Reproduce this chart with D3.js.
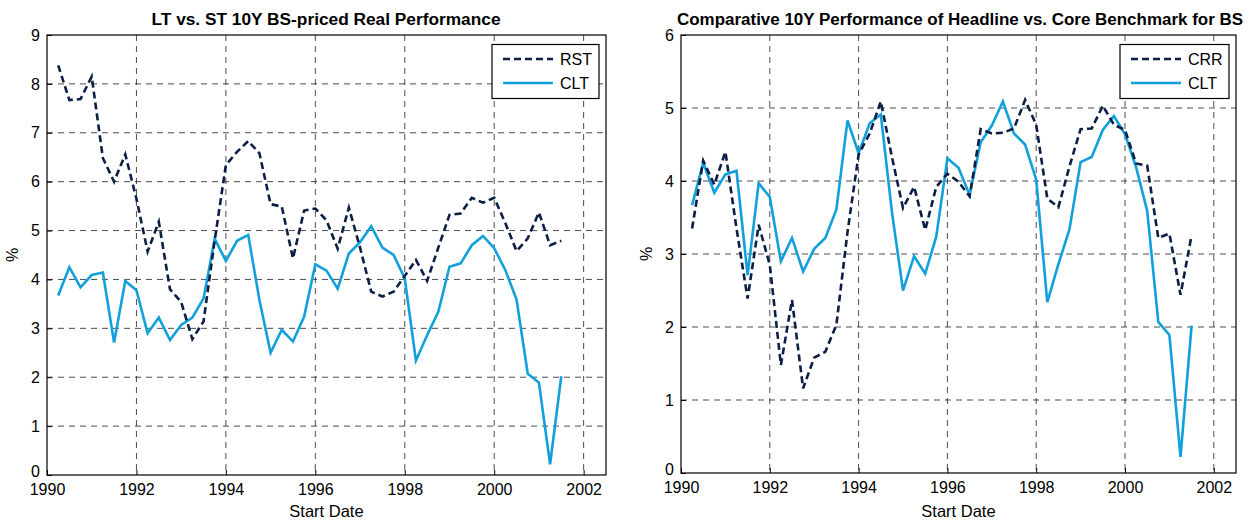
<!DOCTYPE html>
<html><head><meta charset="utf-8">
<script src="https://cdn.jsdelivr.net/npm/d3@7"></script>
<style>
body{margin:0;background:#fff;}
svg text{font-family:"Liberation Sans",Arial,sans-serif;}
</style></head>
<body><svg id="c" width="1250" height="522"></svg>
<script>
// Quarterly start dates 1990.25 .. 2001.5
const dates = d3.range(46).map(i => 1990.25 + i * 0.25);
const rst = [8.38,7.67,7.69,8.15,6.48,6.00,6.56,5.65,4.57,5.18,3.80,3.54,2.78,3.14,4.80,6.34,
  6.61,6.83,6.58,5.54,5.49,4.43,5.41,5.45,5.21,4.63,5.47,4.65,3.75,3.65,3.75,4.07,
  4.40,3.97,4.65,5.32,5.35,5.67,5.57,5.67,5.15,4.58,4.84,5.37,4.70,4.79];
const clt = [3.67,4.25,3.84,4.09,4.14,2.71,3.97,3.78,2.90,3.22,2.76,3.07,3.22,3.61,4.83,4.38,
  4.79,4.91,3.58,2.50,2.97,2.73,3.24,4.31,4.18,3.81,4.53,4.76,5.09,4.65,4.50,4.02,
  2.34,2.86,3.34,4.26,4.33,4.70,4.89,4.64,4.19,3.59,2.07,1.89,0.22,2.02];
const crr = [3.35,4.28,3.95,4.40,3.35,2.39,3.40,2.85,1.48,2.37,1.16,1.58,1.66,2.03,3.30,4.36,
  4.65,5.09,4.33,3.63,3.92,3.33,3.92,4.10,3.99,3.79,4.71,4.65,4.66,4.72,5.11,4.77,
  3.76,3.64,4.20,4.71,4.72,5.03,4.77,4.70,4.24,4.21,3.22,3.28,2.44,3.26];
const xTicks = [1990,1992,1994,1996,1998,2000,2002];
const yTicksL = [0,1,2,3,4,5,6,7,8,9];
const yTicksR = [0,1,2,3,4,5,6];

const DARK = "#0b1f45", LIGHT = "#12a0dc";
const svg = d3.select("#c");

function panel(o) {
  const g = svg.append("g");
  const x = d3.scaleLinear().domain([1990, 2002.5]).range([o.x0, o.x1]);
  const y = d3.scaleLinear().domain([0, o.ymax]).range([o.y1, o.y0]);
  // grid
  g.selectAll(".gx").data(xTicks.filter(t => t > 1990)).join("line")
    .attr("x1", d => x(d)).attr("x2", d => x(d)).attr("y1", o.y0).attr("y2", o.y1)
    .attr("stroke", "#222").attr("stroke-width", 1).attr("stroke-dasharray", "6,5").attr("opacity", 0.8);
  g.selectAll(".gy").data(o.yTicks.filter(t => t > 0 && t < o.ymax)).join("line")
    .attr("x1", o.x0).attr("x2", o.x1).attr("y1", d => y(d)).attr("y2", d => y(d))
    .attr("stroke", "#222").attr("stroke-width", 1).attr("stroke-dasharray", "6,5").attr("opacity", 0.8);
  // axes
  const ax = g.append("g").attr("transform", `translate(0,${o.y1})`)
    .call(d3.axisBottom(x).tickValues(xTicks).tickFormat(d3.format("d")).tickSize(-5).tickPadding(9));
  const ay = g.append("g").attr("transform", `translate(${o.x0},0)`)
    .call(d3.axisLeft(y).tickValues(o.yTicks).tickFormat(d3.format("d")).tickSize(-5).tickPadding(7));
  [ax, ay].forEach(a => {
    a.select(".domain").remove();
    a.selectAll("line").attr("stroke", "#000");
    a.selectAll("text").attr("font-size", 16).attr("fill", "#000");
  });
  ay.selectAll(".tick text").filter(d => d === 0).attr("dy", "0.12em");
  // frame
  g.append("rect").attr("x", o.x0).attr("y", o.y0).attr("width", o.x1 - o.x0).attr("height", o.y1 - o.y0)
    .attr("fill", "none").attr("stroke", "#000").attr("stroke-width", 1.2);
  // lines
  const line = vals => d3.line().x((d, i) => x(dates[i])).y(d => y(d))(vals);
  g.append("path").attr("d", line(o.solid)).attr("fill", "none").attr("stroke", LIGHT).attr("stroke-width", 2.6).attr("stroke-linejoin", "miter");
  g.append("path").attr("d", line(o.dashed)).attr("fill", "none").attr("stroke", DARK).attr("stroke-width", 2.6).attr("stroke-dasharray", "7,4");
  // title
  g.append("text").attr("x", o.tx).attr("y", 25).attr("text-anchor", "middle")
    .attr("font-size", 16).attr("font-weight", "bold").attr("fill", "#000").text(o.title)
    .attr("textLength", o.titleLen).attr("lengthAdjust", "spacingAndGlyphs");
  // axis labels
  g.append("text").attr("x", (o.x0 + o.x1) / 2).attr("y", 517).attr("text-anchor", "middle")
    .attr("font-size", 16.5).text("Start Date");
  g.append("text").attr("transform", `translate(${o.x0 - 29},${(o.y0 + o.y1) / 2}) rotate(-90)`)
    .attr("text-anchor", "middle").attr("font-size", 16).text("%");
  // legend
  const lg = g.append("g");
  lg.append("rect").attr("x", o.lx).attr("y", 44.5).attr("width", o.lw).attr("height", 54)
    .attr("fill", "#fff").attr("stroke", "#000").attr("stroke-width", 1.2);
  const items = [{n: o.dashedName, c: DARK, dash: "7,4"}, {n: "CLT", c: LIGHT, dash: null}];
  items.forEach((it, i) => {
    const yy = 59 + i * 24;
    lg.append("line").attr("x1", o.lx + 11).attr("x2", o.lx + 61).attr("y1", yy).attr("y2", yy)
      .attr("stroke", it.c).attr("stroke-width", 2.6).attr("stroke-dasharray", it.dash);
    lg.append("text").attr("x", o.lx + 68).attr("y", yy + 6).attr("font-size", 16).text(it.n);
  });
}

panel({x0: 47, x1: 606, y0: 35, y1: 475, ymax: 9, yTicks: yTicksL, solid: clt, dashed: rst,
  dashedName: "RST", title: "LT vs. ST 10Y BS-priced Real Performance", titleLen: 349, tx: 326, lx: 492, lw: 107});
panel({x0: 681, x1: 1236, y0: 35, y1: 473, ymax: 6, yTicks: yTicksR, solid: clt, dashed: crr,
  dashedName: "CRR", title: "Comparative 10Y Performance of Headline vs. Core Benchmark for BS", titleLen: 566, tx: 960, lx: 1120, lw: 109});
</script></body></html>
